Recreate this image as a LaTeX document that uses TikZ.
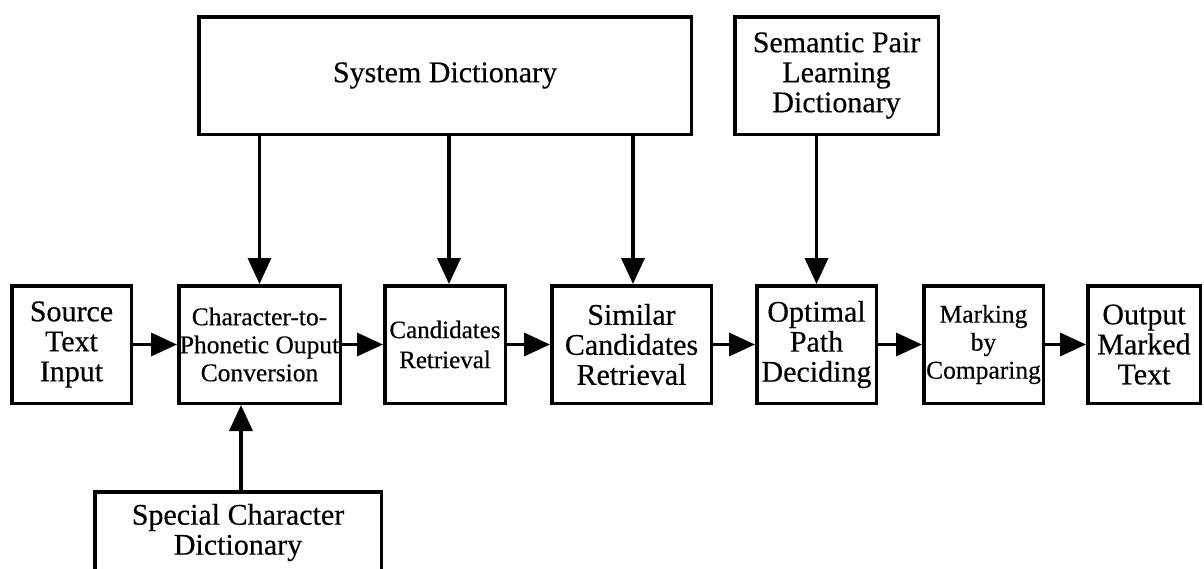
\documentclass[tikz,border=0pt]{standalone}
\usepackage{fontspec}
\setmainfont[FakeBold=0.4]{Liberation Serif}
\usetikzlibrary{arrows.meta}
\begin{document}
\begin{tikzpicture}[x=1pt,y=-1pt,
  box/.style={draw,line width=3.5pt,rectangle,inner sep=0pt,align=center},
  sz/.style 2 args={minimum width=#1,minimum height=#2},
  conn/.style={line width=3.5pt,-{Triangle[length=26pt,width=23pt]}},
  big/.style={font=\fontsize{30}{30}\selectfont},
  mid/.style={font=\fontsize{25.5}{28}\selectfont},
  cnd/.style={font=\fontsize{25}{30}\selectfont},
  dict/.style={font=\fontsize{30}{30}\selectfont},
]
\useasboundingbox (0,0) rectangle (1204,568);
\clip (0,0) rectangle (1204,568);
\fill[white] (0,0) rectangle (1204,568);

% main row
\node[box,big,sz={119.5pt}{117.5pt}] (src)  at (71.5,344.5)  {Source\\Text\\Input};
\node[box,mid,sz={161.5pt}{117.5pt}] (c2p)  at (259.5,344.5) {Character-to-\\Phonetic Ouput\\Conversion};
\node[box,cnd,sz={120.5pt}{117.5pt}] (cand) at (445,344.5)   {Candidates\\Retrieval};
\node[box,big,sz={159.5pt}{117.5pt}] (sim)  at (631.5,344.5) {Similar\\Candidates\\Retrieval};
\node[box,big,sz={119.5pt}{117.5pt}] (opt)  at (816.5,344.5) {Optimal\\Path\\Deciding};
\node[box,mid,sz={119.5pt}{117.5pt}] (mark) at (983.5,344.5) {Marking\\by\\Comparing};
\node[box,big,sz={112.5pt}{117.5pt}] (out)  at (1144,344.5)  {Output\\Marked\\Text};

% dictionaries
\node[box,dict,sz={492.5pt}{117.5pt}] (sysd) at (445,75.5)   {System Dictionary};
\node[box,dict,sz={203.5pt}{117.5pt}] (sem)  at (836.5,75.5) {Semantic Pair\\Learning\\Dictionary};
\node[box,dict,sz={286.5pt}{81.5pt}]  (spec) at (238,532.5)  {Special Character\\Dictionary};

% horizontal flow
\draw[conn] (src) -- (c2p);
\draw[conn] (c2p) -- (cand);
\draw[conn] (cand) -- (sim);
\draw[conn] (sim) -- (opt);
\draw[conn] (opt) -- (mark);
\draw[conn] (mark) -- (out);

% from dictionaries
\draw[conn] (sysd.south -| c2p.north) -- (c2p.north);
\draw[conn] ([xshift=4pt]cand.north |- sysd.south) -- ([xshift=4pt]cand.north);
\draw[conn] ([xshift=1.5pt]sim.north |- sysd.south) -- ([xshift=1.5pt]sim.north);
\draw[conn] (sem.south -| opt.north) -- (opt.north);
\draw[conn] ([xshift=3pt]spec.north) -- ([xshift=3pt]spec.north |- c2p.south);
\end{tikzpicture}
\end{document}
